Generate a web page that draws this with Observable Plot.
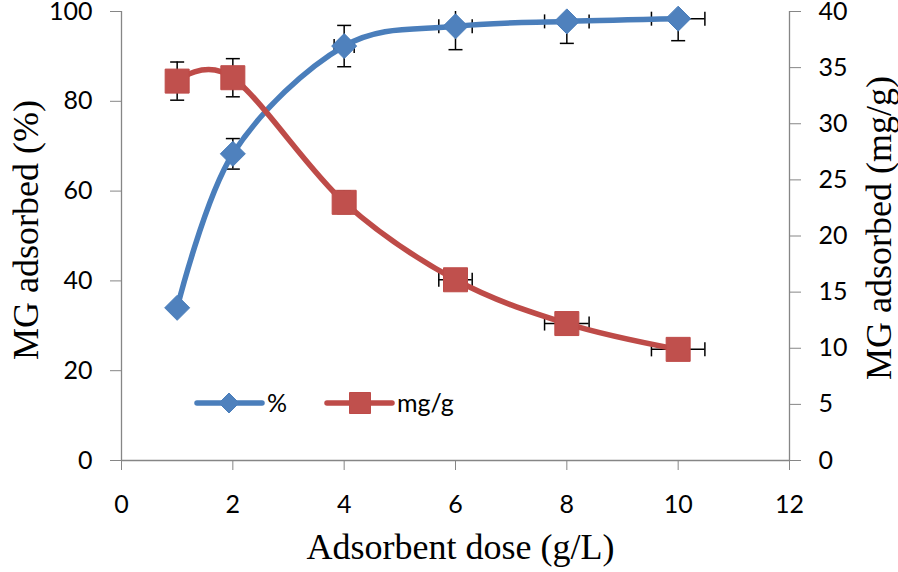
<!DOCTYPE html>
<html>
<head>
<meta charset="utf-8">
<script src="https://cdn.jsdelivr.net/npm/d3@7"></script>
<script src="https://cdn.jsdelivr.net/npm/@observablehq/plot@0.6"></script>
<style>
  html, body { margin: 0; padding: 0; background: #fff; }
  #wrap { position: relative; width: 898px; height: 572px; }
  #legend { position: absolute; left: 0; top: 0; pointer-events: none; }
</style>
</head>
<body>
<div id="wrap"></div>
<script>
// ---- data ----
const dose = [1, 2, 4, 6, 8, 10];
const pctAdsorbed = [34.0, 68.3, 92.3, 96.7, 97.8, 98.4];
const pctErrY = [1.0, 3.4, 4.6, 5.2, 4.9, 4.9];
const pctErrX = [0, 0, 0.18, 0.3, 0.4, 0.48];
const mgAdsorbed = [33.8, 34.1, 23.0, 16.1, 12.2, 9.9];
const mgErrY = [1.7, 1.7, 1.0, 0.4, 0.4, 0.4];
const mgErrX = [0, 0, 0, 0.3, 0.4, 0.48];
const xTicks = [0, 2, 4, 6, 8, 10, 12];
const yLeftTicks = [0, 20, 40, 60, 80, 100];
const yRightTicks = [0, 5, 10, 15, 20, 25, 30, 35, 40];
const seriesNames = ["%", "mg/g"];
const xTitle = "Adsorbent dose (g/L)";
const yLeftTitle = "MG adsorbed (%)";
const yRightTitle = "MG adsorbed (mg/g)";

const K = 100 / 40; // right-axis (mg/g) to left-axis (%) factor

const pctData = dose.map((x, i) => ({x, y: pctAdsorbed[i], ey: pctErrY[i], ex: pctErrX[i]}));
const mgData = dose.map((x, i) => ({x, y: mgAdsorbed[i] * K, ey: mgErrY[i] * K, ex: mgErrX[i]}));

const BLUE = "#4F81BD", BLUE_LINE = "#4A7EBB";
const RED = "#C0504D", RED_LINE = "#BE4B48";
const GRAY = "#868686";
const SERIF = "'Liberation Serif', 'Times New Roman', serif";

// custom symbols
const rOf = size => Math.sqrt(size / Math.PI);
const capH = {draw(ctx, size) { const r = rOf(size); ctx.moveTo(-r, 0); ctx.lineTo(r, 0); }};
const capV = {draw(ctx, size) { const r = rOf(size); ctx.moveTo(0, -r); ctx.lineTo(0, r); }};
const diamond = {draw(ctx, size) { const r = rOf(size); ctx.moveTo(0, -r); ctx.lineTo(r, 0); ctx.lineTo(0, r); ctx.lineTo(-r, 0); ctx.closePath(); }};
const square = {draw(ctx, size) { const r = rOf(size); ctx.rect(-r, -r, 2 * r, 2 * r); }};

function errorMarks(data, clip) {
  const withX = data.filter(d => d.ex > 0);
  return [
    Plot.ruleX(data, {x: "x", y1: d => d.y - d.ey, y2: d => d.y + d.ey, stroke: "#000", strokeWidth: 1.5, clip}),
    Plot.dot(data, {x: "x", y: d => d.y - d.ey, symbol: capH, r: 7, stroke: "#000", strokeWidth: 1.5, fill: "none", clip}),
    Plot.dot(data, {x: "x", y: d => d.y + d.ey, symbol: capH, r: 7, stroke: "#000", strokeWidth: 1.5, fill: "none", clip}),
    Plot.ruleY(withX, {y: "y", x1: d => d.x - d.ex, x2: d => d.x + d.ex, stroke: "#000", strokeWidth: 1.5, clip}),
    Plot.dot(withX, {x: d => d.x - d.ex, y: "y", symbol: capV, r: 7, stroke: "#000", strokeWidth: 1.5, fill: "none", clip}),
    Plot.dot(withX, {x: d => d.x + d.ex, y: "y", symbol: capV, r: 7, stroke: "#000", strokeWidth: 1.5, fill: "none", clip})
  ];
}

const chart = Plot.plot({
  width: 898,
  height: 572,
  marginLeft: 121,
  marginRight: 109,
  marginTop: 11,
  marginBottom: 112,
  style: {fontFamily: "Lato, 'Open Sans', sans-serif", fontSize: "25px", color: "#000", background: "#fff"},
  x: {domain: [0, 12]},
  y: {domain: [0, 100]},
  marks: [
    Plot.axisX(xTicks, {anchor: "bottom", tickSize: 10, tickPadding: 25, stroke: GRAY, fill: "#000", label: null, fontSize: 25}),
    Plot.axisY(yLeftTicks, {anchor: "left", tickSize: 11, tickPadding: 18, stroke: GRAY, fill: "#000", label: null, fontSize: 25}),
    Plot.axisY(yRightTicks.map(v => v * K), {anchor: "right", tickSize: 11, tickPadding: 18, stroke: GRAY, fill: "#000", label: null, fontSize: 25, tickFormat: d => String(Math.round(d / K))}),
    Plot.ruleX([0, 12], {stroke: GRAY, strokeWidth: 1.3}),
    Plot.ruleY([0], {stroke: GRAY, strokeWidth: 1.3}),
    // series 1: %
    ...errorMarks(pctData, true),
    Plot.line(pctData, {x: "x", y: "y", stroke: BLUE_LINE, strokeWidth: 5.5, curve: "cardinal", tension: 0}),
    Plot.dot(pctData, {x: "x", y: "y", symbol: diamond, r: 12.5, fill: BLUE, stroke: BLUE_LINE, strokeWidth: 1}),
    // series 2: mg/g
    ...errorMarks(mgData, true),
    Plot.line(mgData, {x: "x", y: "y", stroke: RED_LINE, strokeWidth: 5.5, curve: "cardinal", tension: 0}),
    Plot.dot(mgData, {x: "x", y: "y", symbol: square, r: 12, fill: RED, stroke: RED_LINE, strokeWidth: 1}),
    // titles
    Plot.text([yLeftTitle], {frameAnchor: "left", dx: -95, dy: -6, rotate: -90, textAnchor: "middle", lineAnchor: "middle", text: d => d, fontFamily: SERIF, fontSize: 36, fill: "#000"}),
    Plot.text([yRightTitle], {frameAnchor: "right", dx: 90, dy: -8, rotate: -90, textAnchor: "middle", lineAnchor: "middle", text: d => d, fontFamily: SERIF, fontSize: 36, fill: "#000"}),
    Plot.text([xTitle], {frameAnchor: "bottom", dy: 87, dx: 5, textAnchor: "middle", lineAnchor: "middle", text: d => d, fontFamily: SERIF, fontSize: 36, fill: "#000"})
  ]
});

const wrap = document.getElementById("wrap");
wrap.appendChild(chart);

// legend overlay
const ns = "http://www.w3.org/2000/svg";
const leg = document.createElementNS(ns, "svg");
leg.setAttribute("id", "legend");
leg.setAttribute("width", 898);
leg.setAttribute("height", 572);
const items = [
  {name: seriesNames[0], x0: 197, x1: 262, cx: 229, line: BLUE_LINE, fill: BLUE, shape: "diamond"},
  {name: seriesNames[1], x0: 327, x1: 392, cx: 360, line: RED_LINE, fill: RED, shape: "square"}
];
const ly = 403;
for (const it of items) {
  const l = document.createElementNS(ns, "line");
  l.setAttribute("x1", it.x0); l.setAttribute("x2", it.x1);
  l.setAttribute("y1", ly); l.setAttribute("y2", ly);
  l.setAttribute("stroke", it.line); l.setAttribute("stroke-width", 5.5);
  l.setAttribute("stroke-linecap", "round");
  leg.appendChild(l);
  const p = document.createElementNS(ns, "path");
  const r = it.shape === "diamond" ? 10 : 10.5;
  const d = it.shape === "diamond"
    ? `M${it.cx},${ly - r}L${it.cx + r},${ly}L${it.cx},${ly + r}L${it.cx - r},${ly}Z`
    : `M${it.cx - r},${ly - r}h${2 * r}v${2 * r}h${-2 * r}Z`;
  p.setAttribute("d", d);
  p.setAttribute("fill", it.fill);
  p.setAttribute("stroke", it.line);
  leg.appendChild(p);
  const t = document.createElementNS(ns, "text");
  t.setAttribute("x", it.x1 + 5);
  t.setAttribute("y", ly);
  t.setAttribute("dy", "0.35em");
  t.setAttribute("font-family", "Lato, 'Open Sans', sans-serif");
  t.setAttribute("font-size", 25);
  t.textContent = it.name;
  leg.appendChild(t);
}
wrap.appendChild(leg);
</script>
</body>
</html>
